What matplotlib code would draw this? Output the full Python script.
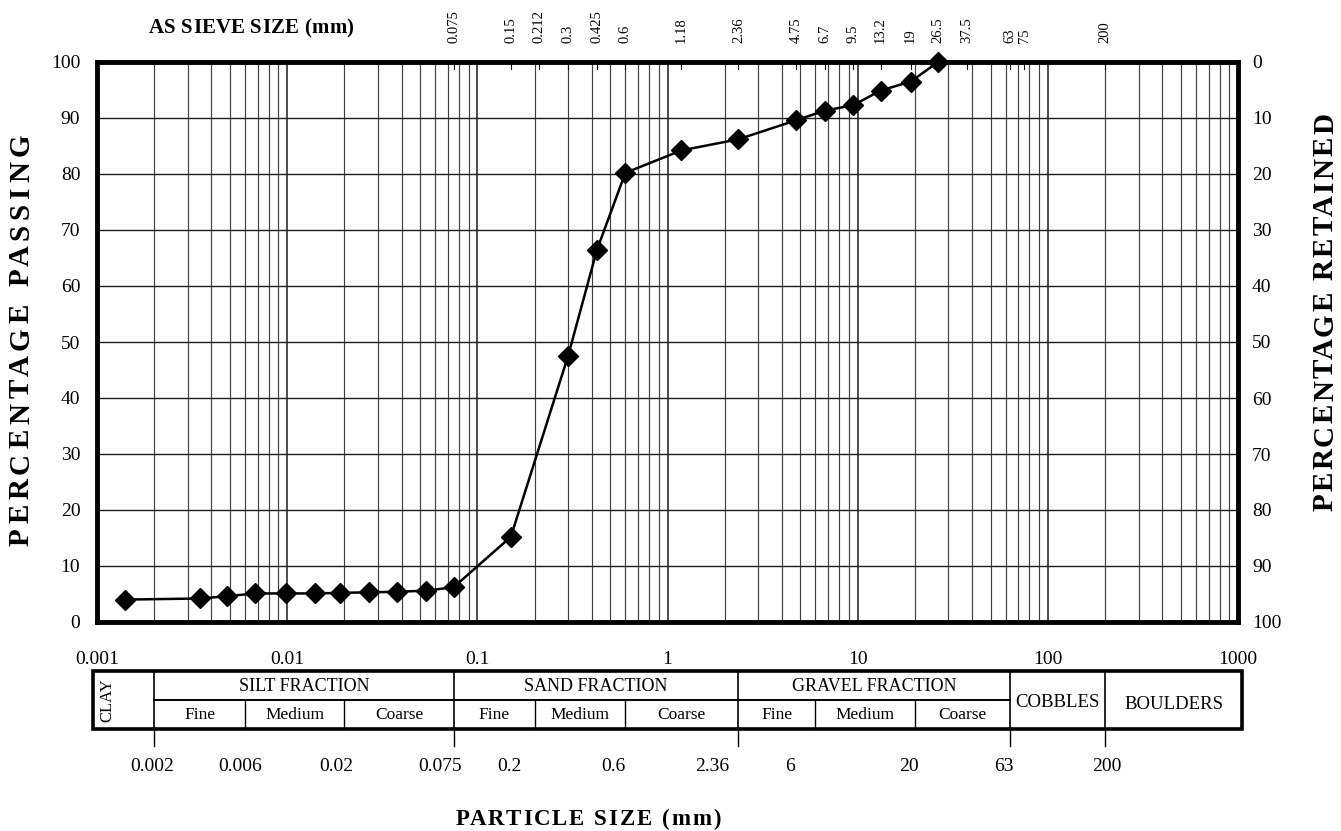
import matplotlib
matplotlib.use('Agg')
import matplotlib.pyplot as plt
import numpy as np
from matplotlib.patches import Rectangle
import matplotlib.transforms as mtransforms

plt.rcParams['font.family'] = ['Liberation Serif', 'DejaVu Serif']

# ---------------- data ----------------
particle_size = [0.0014, 0.0035, 0.0048, 0.0068, 0.0099, 0.014, 0.019, 0.027, 0.038, 0.054, 0.075,
                 0.15, 0.3, 0.425, 0.6, 1.18, 2.36, 4.75, 6.7, 9.5, 13.2, 19, 26.5]
percent_passing = [4.0, 4.2, 4.6, 5.1, 5.1, 5.1, 5.2, 5.3, 5.4, 5.6, 6.2,
                   15.2, 47.5, 66.4, 80.2, 84.2, 86.2, 89.6, 91.3, 92.3, 94.9, 96.5, 100]

sieve_sizes = [0.075, 0.15, 0.212, 0.3, 0.425, 0.6, 1.18, 2.36, 4.75, 6.7, 9.5,
               13.2, 19, 26.5, 37.5, 63, 75, 200]
sieve_labels = ['0.075', '0.15', '0.212', '0.3', '0.425', '0.6', '1.18', '2.36', '4.75',
                '6.7', '9.5', '13.2', '19', '26.5', '37.5', '63', '75', '200']

x_ticks = [0.001, 0.01, 0.1, 1, 10, 100, 1000]
x_tick_labels = ['0.001', '0.01', '0.1', '1', '10', '100', '1000']
y_ticks = [0, 10, 20, 30, 40, 50, 60, 70, 80, 90, 100]

fraction_names = ['SILT FRACTION', 'SAND FRACTION', 'GRAVEL FRACTION']
fraction_bounds = [(0.002, 0.075), (0.075, 2.36), (2.36, 63)]
sub_names = ['Fine', 'Medium', 'Coarse']
sub_bounds = [0.002, 0.006, 0.02, 0.075, 0.2, 0.6, 2.36, 6, 20, 63]
boundary_values = [0.002, 0.006, 0.02, 0.075, 0.2, 0.6, 2.36, 6, 20, 63, 200]
boundary_labels = ['0.002', '0.006', '0.02', '0.075', '0.2', '0.6', '2.36', '6', '20', '63', '200']
boundary_nudge_px = [-2, -5, -8, -14, -25, -12, -26, -25, -6, -6, 2]
full_dividers = [0.002, 0.075, 2.36, 63, 200]

# ---------------- figure ----------------
W, H = 1341, 831
fig = plt.figure(figsize=(W / 100, H / 100), dpi=100)
fig.patch.set_facecolor('white')
renderer = fig.canvas.get_renderer()


def spaced_text(x_px, y_px, s, size, total_len_px, vertical=False, weight='bold'):
    """Letter-spaced text. Horizontal: x_px = centre, y_px = baseline (from top).
    Vertical (reads upward): x_px = baseline, y_px = centre (from top)."""
    def w(txt):
        t = fig.text(0, 0, txt, fontsize=size, fontweight=weight)
        bb = t.get_window_extent(renderer)
        t.remove()
        return bb.width
    n = len(s)
    base = w(s)
    sp = (total_len_px - base) / (n - 1)
    start = -total_len_px / 2
    for i, ch in enumerate(s):
        if ch == ' ':
            continue
        off = start + (w(s[:i + 1]) - w(ch)) + i * sp
        if not vertical:
            fig.text((x_px + off) / W, 1 - y_px / H, ch, fontsize=size, fontweight=weight,
                     ha='left', va='baseline')
        else:
            fig.text(x_px / W, 1 - (y_px - off) / H, ch, fontsize=size, fontweight=weight,
                     rotation=90, rotation_mode='anchor', ha='left', va='baseline')


L, R, T, B = 97, 1238, 62, 622
ax = fig.add_axes([L / W, 1 - B / H, (R - L) / W, (B - T) / H])
ax.set_xscale('log')
ax.set_xlim(0.001, 1000)
ax.set_ylim(0, 100)

# grid (log paper)
for k in range(-3, 3):
    for m in range(1, 10):
        v = m * 10.0 ** k
        if v <= 0.001 or v >= 1000:
            continue
        ax.axvline(v, color='0.1' if m == 1 else '0.25', lw=1.1 if m == 1 else 0.85, zorder=1)
for yv in y_ticks[1:-1]:
    ax.axhline(yv, color='0.1', lw=1.0, zorder=1)

# data
ax.plot(particle_size, percent_passing, color='black', lw=1.8, marker='D',
        markersize=10.5, markerfacecolor='black', markeredgecolor='black', zorder=5,
        clip_on=False)

for s in ax.spines.values():
    s.set_linewidth(3.5)
    s.set_color('black')

ax.set_xticks(x_ticks)
ax.set_xticklabels(x_tick_labels, fontsize=14)
ax.xaxis.set_minor_locator(matplotlib.ticker.NullLocator())
ax.tick_params(axis='x', which='major', length=0, pad=21)
ax.set_yticks(y_ticks)
ax.set_yticklabels([str(v) for v in y_ticks], fontsize=14)
ax.tick_params(axis='y', length=0, pad=12)

ax2 = ax.twinx()
ax2.set_ylim(100, 0)
ax2.set_yticks(y_ticks)
ax2.set_yticklabels([str(v) for v in y_ticks], fontsize=14)
ax2.tick_params(axis='y', length=0, pad=10)
for s in ax2.spines.values():
    s.set_visible(False)

# top sieve labels
for v, lab in zip(sieve_sizes, sieve_labels):
    ax.annotate(lab, xy=(v, 1), xycoords=('data', 'axes fraction'),
                xytext=(0, 14), textcoords='offset points', rotation=90,
                ha='center', va='bottom', fontsize=10.5, annotation_clip=False)
    ax.plot([v, v], [100, 98.8], color='black', lw=0.8, clip_on=False, zorder=6)

spaced_text(251, 33, 'AS SIEVE SIZE (mm)', 15, 205)
spaced_text(29, 340, 'PERCENTAGE PASSING', 21, 412, vertical=True)
spaced_text(1333, 312, 'PERCENTAGE RETAINED', 21, 398, vertical=True)
spaced_text(588, 825, 'PARTICLE SIZE (mm)', 16.5, 265)

# ---------------- classification table ----------------
TT, TB = 671, 729
tax = fig.add_axes([L / W, 1 - TB / H, (R - L) / W, (TB - TT) / H])
tax.set_xscale('log')
tax.set_xlim(0.001, 1000)
tax.set_ylim(0, 1)
tax.axis('off')

x_left, x_right = 0.00095, 1050
tax.add_patch(Rectangle((x_left, 0), x_right - x_left, 1, fill=False, lw=2.6,
                        edgecolor='black', clip_on=False))
tax.plot([0.002, 63], [0.5, 0.5], color='black', lw=1.4, clip_on=False)
for v in full_dividers:
    tax.plot([v, v], [0, 1], color='black', lw=1.2, clip_on=False)
    tax.plot([v, v], [0, -0.3], color='black', lw=1.0, clip_on=False)
for v in sub_bounds:
    if v not in full_dividers:
        tax.plot([v, v], [0, 0.5], color='black', lw=1.0, clip_on=False)

tax.text(0.00113, 0.5, 'CLAY', rotation=90, ha='center', va='center', fontsize=12)
for name, (a, b) in zip(fraction_names, fraction_bounds):
    tax.text(np.sqrt(a * b), 0.74, name, ha='center', va='center', fontsize=13)
for i in range(len(sub_bounds) - 1):
    a, b = sub_bounds[i], sub_bounds[i + 1]
    tax.text(np.sqrt(a * b), 0.24, sub_names[i % 3], ha='center', va='center', fontsize=12.5)
tax.text(np.sqrt(63 * 200), 0.45, 'COBBLES', ha='center', va='center', fontsize=13.5)
tax.text(np.sqrt(200 * x_right), 0.42, 'BOULDERS', ha='center', va='center', fontsize=13.5)

for v, lab, dx in zip(boundary_values, boundary_labels, boundary_nudge_px):
    tr = mtransforms.offset_copy(tax.transData, fig=fig, x=dx * 0.72, y=0, units='points')
    tax.text(v, -0.64, lab, transform=tr, ha='center', va='center', fontsize=14)

fig.savefig('out.png', dpi=100)
